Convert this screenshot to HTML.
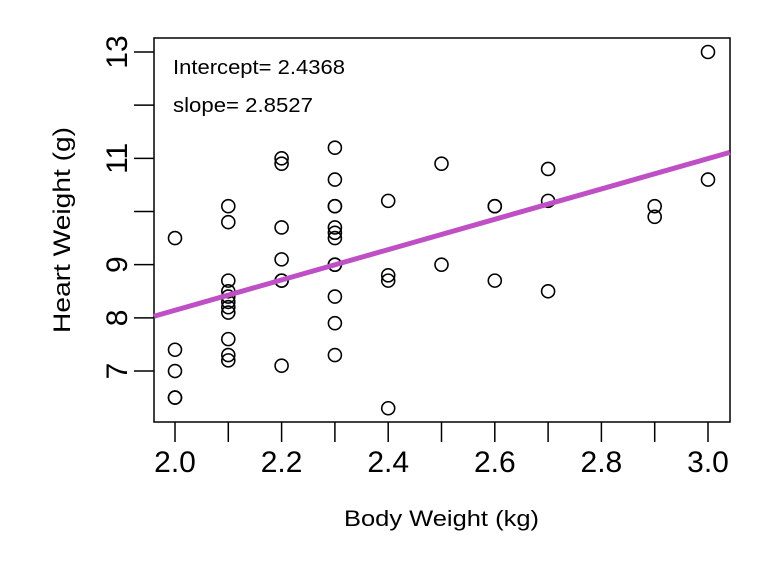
<!DOCTYPE html>
<html><head><meta charset="utf-8"><style>
body{margin:0;background:#fff}
text{font-family:"Liberation Sans",sans-serif;fill:#000}
</style></head><body>
<svg id="chart" width="768" height="576" xmlns="http://www.w3.org/2000/svg">
<rect x="154" y="38" width="576" height="384" fill="none" stroke="#000" stroke-width="1.5"/>
<g id="pts"></g><g id="axes"></g>
<text x="173" y="74" font-size="20.5" textLength="172" lengthAdjust="spacingAndGlyphs">Intercept= 2.4368</text>
<text x="173" y="112" font-size="20.5" textLength="140" lengthAdjust="spacingAndGlyphs">slope= 2.8527</text>
<text x="344" y="526" font-size="22" textLength="195" lengthAdjust="spacingAndGlyphs">Body Weight (kg)</text>
<text transform="translate(70,333) rotate(-90)" font-size="24" textLength="206" lengthAdjust="spacingAndGlyphs">Heart Weight (g)</text>
</svg>
<script>
const bwt=[2.0,2.0,2.0,2.0,2.0,2.1,2.1,2.1,2.1,2.1,2.1,2.1,2.1,2.1,2.1,2.1,2.2,2.2,2.2,2.2,2.2,2.2,2.2,2.3,2.3,2.3,2.3,2.3,2.3,2.3,2.3,2.3,2.3,2.3,2.3,2.4,2.4,2.4,2.4,2.5,2.5,2.6,2.6,2.6,2.7,2.7,2.7,2.9,2.9,3.0,3.0];
const hwt=[9.5,7.4,7.0,6.5,6.5,10.1,9.8,8.7,8.5,8.4,8.3,8.2,8.1,7.6,7.3,7.2,11.0,10.9,9.7,9.1,8.7,8.7,7.1,11.2,10.6,10.1,10.1,9.7,9.6,9.5,9.0,9.0,8.4,7.9,7.3,10.2,8.8,8.7,6.3,10.9,9.0,10.1,10.1,8.7,10.8,10.2,8.5,10.1,9.9,13.0,10.6];
const intercept=2.4368, slope=2.8527;
const xTicks=[2.0,2.2,2.4,2.6,2.8,3.0];
const xMinor=[2.1,2.3,2.5,2.7,2.9];
const yTicks=[7,8,9,10,11,12,13];
const yLabels=["7","8","9","","11","","13"];
const NS="http://www.w3.org/2000/svg";
const X=v=>175+(v-2.0)*533, Y=v=>52+(13-v)*53.17;
const pts=document.getElementById('pts'), ax=document.getElementById('axes');
function mk(tag,at,p){const e=document.createElementNS(NS,tag);for(const k in at)e.setAttribute(k,at[k]);p.appendChild(e);return e;}
bwt.forEach((b,i)=>{const c=mk('circle',{cx:X(b),cy:Y(hwt[i]),r:6.5,fill:'none',stroke:'#000','stroke-width':1.6},pts);

});
const x0=1.9606,x1=3.041;
const ln=mk('line',{x1:X(x0),y1:Y(intercept+slope*x0),x2:X(x1),y2:Y(intercept+slope*x1),stroke:'#BF4FC4','stroke-width':5},pts);


xTicks.forEach(t=>{mk('line',{x1:X(t),x2:X(t),y1:422,y2:442,stroke:'#000','stroke-width':1.5},ax);
const tx=mk('text',{x:X(t),y:472,'font-size':30,'text-anchor':'middle'},ax);tx.textContent=t.toFixed(1);

});
xMinor.forEach(t=>{mk('line',{x1:X(t),x2:X(t),y1:422,y2:442,stroke:'#000','stroke-width':1.5},ax);});
yTicks.forEach((t,i)=>{mk('line',{x1:134,x2:154,y1:Y(t),y2:Y(t),stroke:'#000','stroke-width':1.5},ax);
if(yLabels[i]){const tx=mk('text',{transform:`translate(127,${Y(t)}) rotate(-90)`,'font-size':30,'text-anchor':'middle'},ax);tx.textContent=yLabels[i];

}});
</script>
</body></html>
